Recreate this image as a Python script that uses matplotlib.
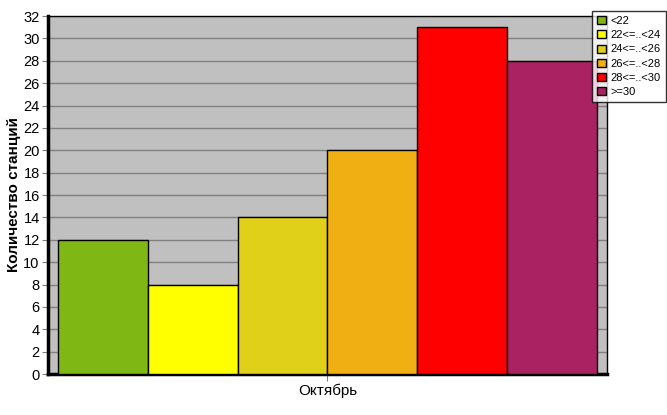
import matplotlib
matplotlib.use("Agg")
import matplotlib.pyplot as plt
from matplotlib.patches import Patch
from matplotlib.ticker import MultipleLocator

categories = ["<22", "22<=..<24", "24<=..<26", "26<=..<28", "28<=..<30", ">=30"]
values = [12, 8, 14, 20, 31, 28]
colors = ["#7FB815", "#FFFF00", "#E0D01A", "#F0B014", "#FF0000", "#AA2262"]
month = "Октябрь"
ylabel = "Количество станций"

plt.rcParams['font.family'] = ['Liberation Sans', 'DejaVu Sans']

fig = plt.figure(figsize=(6.67, 4.15), dpi=100)
ax = fig.add_axes([48/667, 1-374/415, (607-48)/667, (374-16)/415])
ax.set_facecolor("#C0C0C0")

xs = list(range(len(values)))
ax.bar(xs, values, width=1.0, color=colors, edgecolor="black", linewidth=1, zorder=3)

ax.set_ylim(0, 32)
ax.set_xlim(-0.5 - 0.108, 5.5 + 0.11)
ax.yaxis.set_major_locator(MultipleLocator(2))
ax.grid(axis="y", color="#808080", linewidth=1, zorder=1)
ax.set_axisbelow(True)

ax.set_xticks([2.5])
ax.set_xticklabels([month], fontsize=11)
ax.tick_params(axis="x", length=5, color="#808080", pad=2)
ax.tick_params(axis="y", length=4, color="#808080", labelsize=10.5, pad=2)

for s in ["left", "bottom"]:
    ax.spines[s].set_linewidth(2.5)
    ax.spines[s].set_color("black")
for s in ["top", "right"]:
    ax.spines[s].set_linewidth(1)
    ax.spines[s].set_color("black")

ax.set_ylabel(ylabel, fontsize=11, fontweight="bold", labelpad=2)

handles = [Patch(facecolor=c, edgecolor="black", linewidth=1) for c in colors]
leg = fig.legend(handles, categories, loc="upper right",
                 bbox_to_anchor=(666/667, 1-11/415), fontsize=8,
                 frameon=True, fancybox=False, edgecolor="black",
                 handlelength=0.75, handleheight=0.75, handletextpad=0.45,
                 labelspacing=0.38, borderpad=0.45, borderaxespad=0)
leg.get_frame().set_linewidth(1)

fig.savefig("out.png", dpi=100)
